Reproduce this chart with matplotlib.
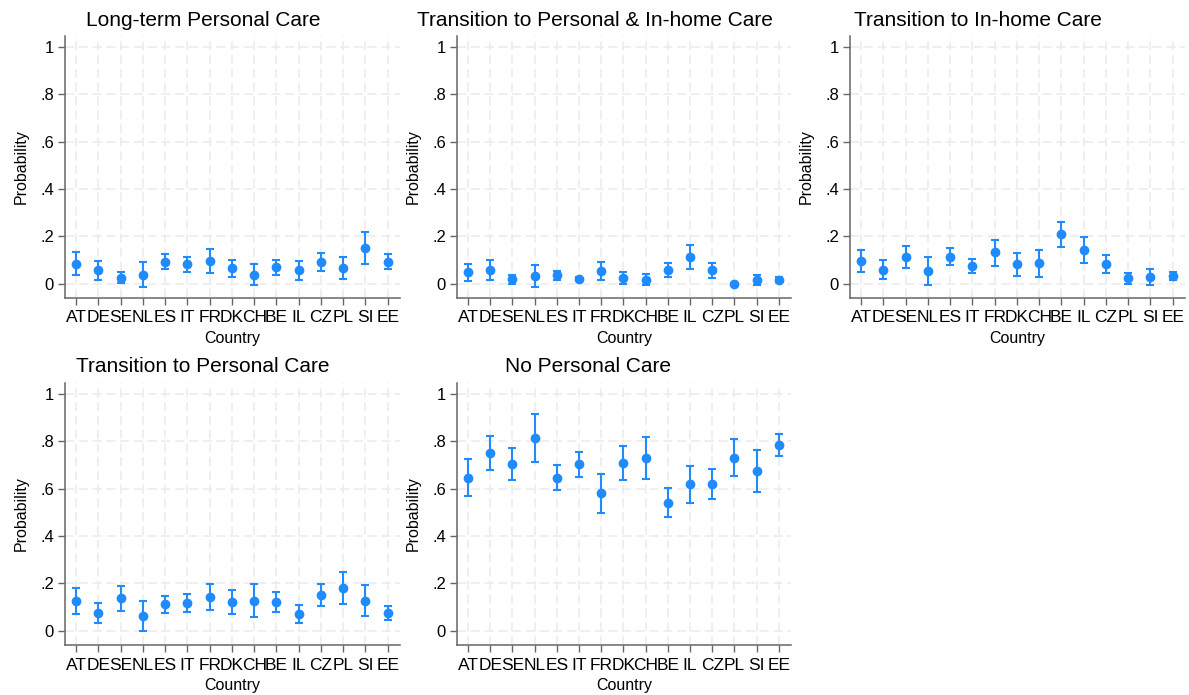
import matplotlib
matplotlib.use("Agg")
import matplotlib.pyplot as plt
import numpy as np

plt.rcParams['font.family'] = ['Liberation Sans', 'DejaVu Sans']

countries = ["AT", "DE", "SE", "NL", "ES", "IT", "FR", "DK", "CH", "BE", "IL", "CZ", "PL", "SI", "EE"]

# point estimates and 95% CI (low, high) per outcome
longterm = [0.085, 0.056, 0.025, 0.037, 0.093, 0.082, 0.096, 0.065, 0.037, 0.070, 0.056, 0.092, 0.068, 0.152, 0.093]
longterm_lo = [0.037, 0.018, 0.003, -0.015, 0.061, 0.051, 0.046, 0.028, -0.007, 0.039, 0.017, 0.055, 0.021, 0.085, 0.061]
longterm_hi = [0.132, 0.097, 0.049, 0.092, 0.125, 0.115, 0.146, 0.101, 0.083, 0.101, 0.096, 0.128, 0.114, 0.220, 0.124]

pers_home = [0.048, 0.059, 0.021, 0.034, 0.035, 0.020, 0.052, 0.025, 0.018, 0.058, 0.111, 0.056, 0.000, 0.017, 0.017]
pers_home_lo = [0.013, 0.018, 0.001, -0.013, 0.017, 0.010, 0.014, 0.000, -0.006, 0.028, 0.061, 0.025, -0.001, -0.006, 0.007]
pers_home_hi = [0.082, 0.099, 0.039, 0.079, 0.054, 0.027, 0.090, 0.051, 0.042, 0.087, 0.162, 0.086, 0.001, 0.038, 0.027]

inhome = [0.096, 0.059, 0.113, 0.054, 0.114, 0.076, 0.132, 0.082, 0.086, 0.208, 0.142, 0.085, 0.023, 0.030, 0.032]
inhome_lo = [0.048, 0.020, 0.065, -0.007, 0.079, 0.046, 0.076, 0.034, 0.030, 0.156, 0.087, 0.046, -0.003, -0.004, 0.015]
inhome_hi = [0.144, 0.100, 0.161, 0.111, 0.149, 0.106, 0.186, 0.128, 0.141, 0.259, 0.199, 0.121, 0.046, 0.062, 0.048]

personal = [0.124, 0.074, 0.137, 0.062, 0.112, 0.119, 0.141, 0.122, 0.127, 0.123, 0.071, 0.151, 0.179, 0.127, 0.077]
personal_lo = [0.070, 0.031, 0.084, 0.000, 0.077, 0.080, 0.087, 0.069, 0.060, 0.081, 0.034, 0.103, 0.113, 0.063, 0.046]
personal_hi = [0.179, 0.117, 0.189, 0.124, 0.145, 0.157, 0.197, 0.173, 0.196, 0.164, 0.110, 0.199, 0.246, 0.193, 0.106]

nocare = [0.646, 0.748, 0.703, 0.813, 0.646, 0.703, 0.579, 0.706, 0.729, 0.540, 0.617, 0.617, 0.729, 0.673, 0.782]
nocare_lo = [0.569, 0.677, 0.635, 0.712, 0.594, 0.650, 0.498, 0.634, 0.639, 0.480, 0.540, 0.554, 0.652, 0.585, 0.737]
nocare_hi = [0.726, 0.822, 0.772, 0.916, 0.699, 0.755, 0.662, 0.780, 0.818, 0.603, 0.695, 0.681, 0.808, 0.764, 0.828]

titles = ["Long-term Personal Care", "Transition to Personal & In-home Care",
          "Transition to In-home Care", "Transition to Personal Care", "No Personal Care"]
series = [(longterm, longterm_lo, longterm_hi), (pers_home, pers_home_lo, pers_home_hi),
          (inhome, inhome_lo, inhome_hi), (personal, personal_lo, personal_hi),
          (nocare, nocare_lo, nocare_hi)]

W, H = 1189, 695
fig = plt.figure(figsize=(W / 100, H / 100), dpi=100)
fig.patch.set_facecolor("white")

# panel boxes in pixels: left, top, right, bottom
boxes = [(65, 36, 400, 298), (457, 36, 791, 298), (850, 36, 1185, 298),
         (65, 383, 400, 645), (457, 383, 791, 645)]
title_pos = [(203, 20), (595, 20), (978, 20), (203, 367), (588, 367)]

blue = "#1f8bff"
x = np.arange(len(countries))

for i in range(5):
    l, t, r, b = boxes[i]
    ax = fig.add_axes([l / W, 1 - b / H, (r - l) / W, (b - t) / H])
    est, lo, hi = series[i]
    est = np.array(est)
    yerr = [est - np.array(lo), np.array(hi) - est]
    ax.errorbar(x, est, yerr=yerr, fmt="o", color=blue, ms=6, elinewidth=1.5,
                capsize=3, capthick=1.5, zorder=3)
    ax.set_xlim(-0.5, 14.55)
    ax.set_ylim(-0.06, 1.045)
    ax.set_yticks([0, 0.2, 0.4, 0.6, 0.8, 1])
    ax.set_yticklabels(["0", ".2", ".4", ".6", ".8", "1"])
    ax.set_xticks(x)
    ax.set_xticklabels(countries)
    ax.tick_params(axis="x", labelsize=12.5, length=5, width=1, color="#666666", pad=4)
    ax.tick_params(axis="y", labelsize=12, length=5, width=1, color="#666666", pad=3)
    ax.grid(True, color="#ebebeb", linestyle=(0, (6, 3)), linewidth=1.1)
    ax.set_axisbelow(True)
    for s in ["top", "right"]:
        ax.spines[s].set_visible(False)
    for s in ["left", "bottom"]:
        ax.spines[s].set_color("#666666")
        ax.spines[s].set_linewidth(1.1)
    ax.set_ylabel("Probability", fontsize=11.5, labelpad=8)
    ax.set_xlabel("Country", fontsize=11.5, labelpad=4)
    tx, ty = title_pos[i]
    fig.text(tx / W, 1 - ty / H, titles[i], fontsize=15, ha="center", va="center")

fig.savefig("out.png", dpi=100, facecolor="white")
